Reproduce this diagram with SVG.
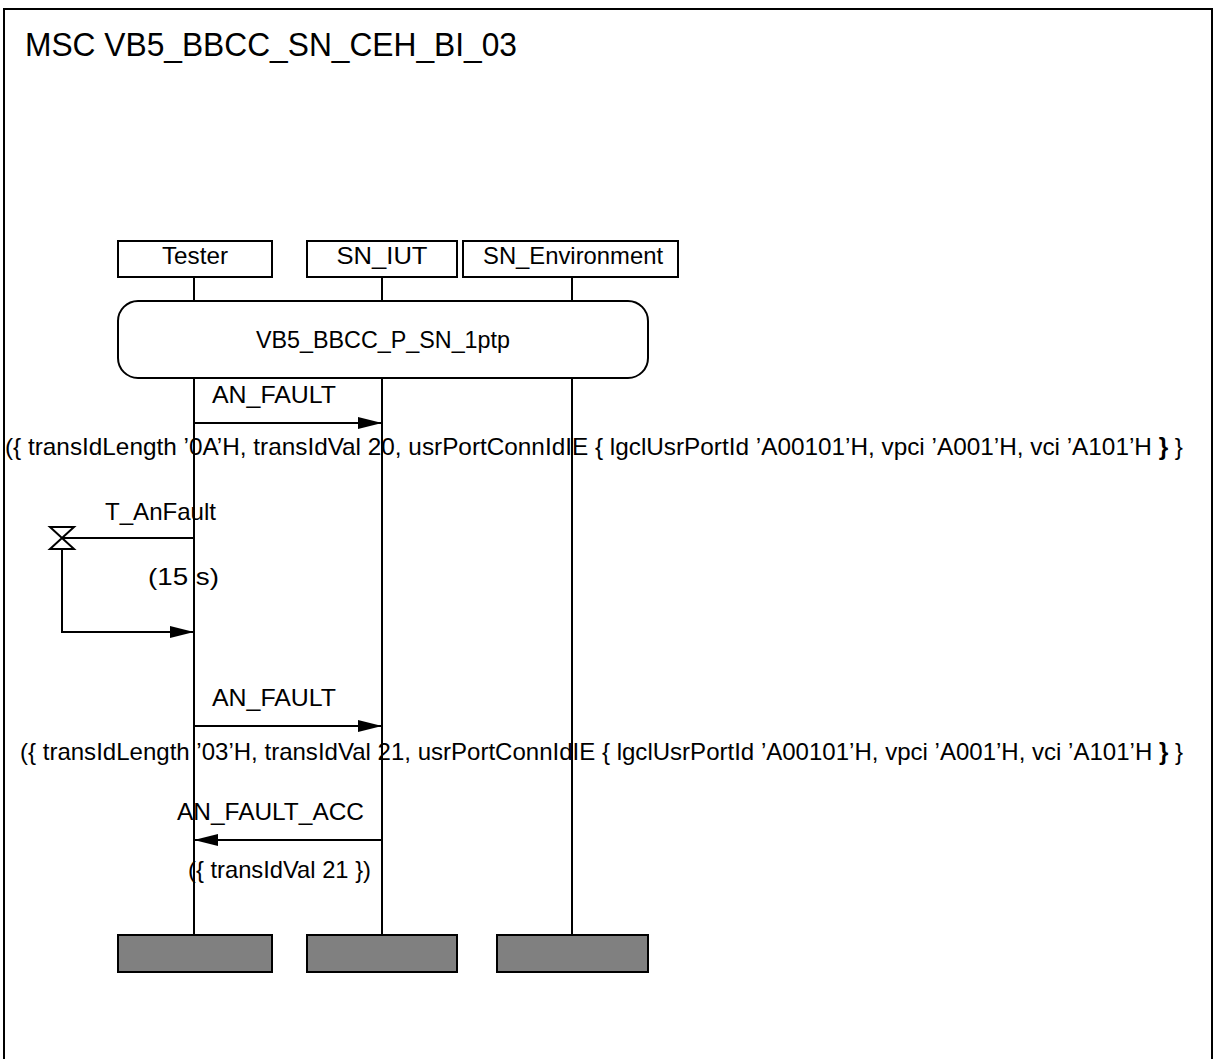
<svg xmlns="http://www.w3.org/2000/svg" width="1214" height="1059" viewBox="0 0 1214 1059">
<style>
  .t{font-family:"Liberation Sans",Arial,sans-serif;font-size:24px;fill:#000}
  .ln{stroke:#000;stroke-width:2;fill:none}
  .box{fill:#fff;stroke:#000;stroke-width:2}
  .end{fill:#808080;stroke:#000;stroke-width:2}
</style>
<defs>
  <marker id="ah" markerWidth="24" markerHeight="12" refX="24" refY="6" orient="auto" markerUnits="userSpaceOnUse">
    <path d="M0,0 L24,6 L0,12 Z" fill="#000"/>
  </marker>
</defs>
<rect x="0" y="0" width="1214" height="1059" fill="#fff"/>
<g id="frame">
  <rect x="4" y="9" width="1208" height="1070" fill="none" stroke="#000" stroke-width="2"/>
  <text class="t" x="25" y="56" style="font-size:33px" textLength="492" lengthAdjust="spacingAndGlyphs">MSC VB5_BBCC_SN_CEH_BI_03</text>
</g>
<g id="lifelines">
  <line class="ln" x1="194" y1="277" x2="194" y2="301"/>
  <line class="ln" x1="382" y1="277" x2="382" y2="301"/>
  <line class="ln" x1="572" y1="277" x2="572" y2="301"/>
  <line class="ln" x1="194" y1="378" x2="194" y2="935"/>
  <line class="ln" x1="382" y1="378" x2="382" y2="935"/>
  <line class="ln" x1="572" y1="378" x2="572" y2="935"/>
</g>
<g id="tester">
  <rect class="box" x="118" y="241" width="154" height="36"/>
  <text class="t" x="195" y="264" text-anchor="middle" textLength="66" lengthAdjust="spacingAndGlyphs">Tester</text>
</g>
<g id="sn_iut">
  <rect class="box" x="307" y="241" width="150" height="36"/>
  <text class="t" x="382" y="264" text-anchor="middle" textLength="91" lengthAdjust="spacingAndGlyphs">SN_IUT</text>
</g>
<g id="sn_environment">
  <rect class="box" x="463" y="241" width="215" height="36"/>
  <text class="t" x="573" y="264" text-anchor="middle" textLength="180" lengthAdjust="spacingAndGlyphs">SN_Environment</text>
</g>
<g id="reference">
  <rect class="box" x="118" y="301" width="530" height="77" rx="20" ry="20"/>
  <text class="t" x="383" y="348" text-anchor="middle" textLength="254" lengthAdjust="spacingAndGlyphs">VB5_BBCC_P_SN_1ptp</text>
</g>
<g id="timer">
  <line class="ln" x1="62" y1="538" x2="194" y2="538"/>
  <path class="ln" d="M50,527 L74,527 L50,549 L74,549 Z"/>
  <path class="ln" d="M62,549 L62,632 L194,632" marker-end="url(#ah)"/>
  <text class="t" x="105" y="520" textLength="111" lengthAdjust="spacingAndGlyphs">T_AnFault</text>
  <text class="t" x="148" y="585" textLength="71" lengthAdjust="spacingAndGlyphs">(15 s)</text>
</g>
<g id="connectors">
  <line class="ln" x1="194" y1="423" x2="382" y2="423" marker-end="url(#ah)"/>
  <line class="ln" x1="194" y1="726" x2="382" y2="726" marker-end="url(#ah)"/>
  <line class="ln" x1="382" y1="840" x2="194" y2="840" marker-end="url(#ah)"/>
</g>
<g id="labels">
  <text class="t" x="212" y="403" textLength="124" lengthAdjust="spacingAndGlyphs">AN_FAULT</text>
  <text class="t" x="5" y="455" textLength="1178" lengthAdjust="spacingAndGlyphs">({ transIdLength ’0A’H, transIdVal 20, usrPortConnIdIE { lgclUsrPortId ’A00101’H, vpci ’A001’H, vci ’A101’H <tspan font-weight="bold">}</tspan> }</text>
  <text class="t" x="212" y="706" textLength="124" lengthAdjust="spacingAndGlyphs">AN_FAULT</text>
  <text class="t" x="20" y="760" textLength="1163" lengthAdjust="spacingAndGlyphs">({ transIdLength ’03’H, transIdVal 21, usrPortConnIdIE { lgclUsrPortId ’A00101’H, vpci ’A001’H, vci ’A101’H <tspan font-weight="bold">}</tspan> }</text>
  <text class="t" x="177" y="820" textLength="187" lengthAdjust="spacingAndGlyphs">AN_FAULT_ACC</text>
  <text class="t" x="188" y="878" textLength="183" lengthAdjust="spacingAndGlyphs">({ transIdVal 21 })</text>
</g>
<g id="ends">
  <rect class="end" x="118" y="935" width="154" height="37"/>
  <rect class="end" x="307" y="935" width="150" height="37"/>
  <rect class="end" x="497" y="935" width="151" height="37"/>
</g>
</svg>
